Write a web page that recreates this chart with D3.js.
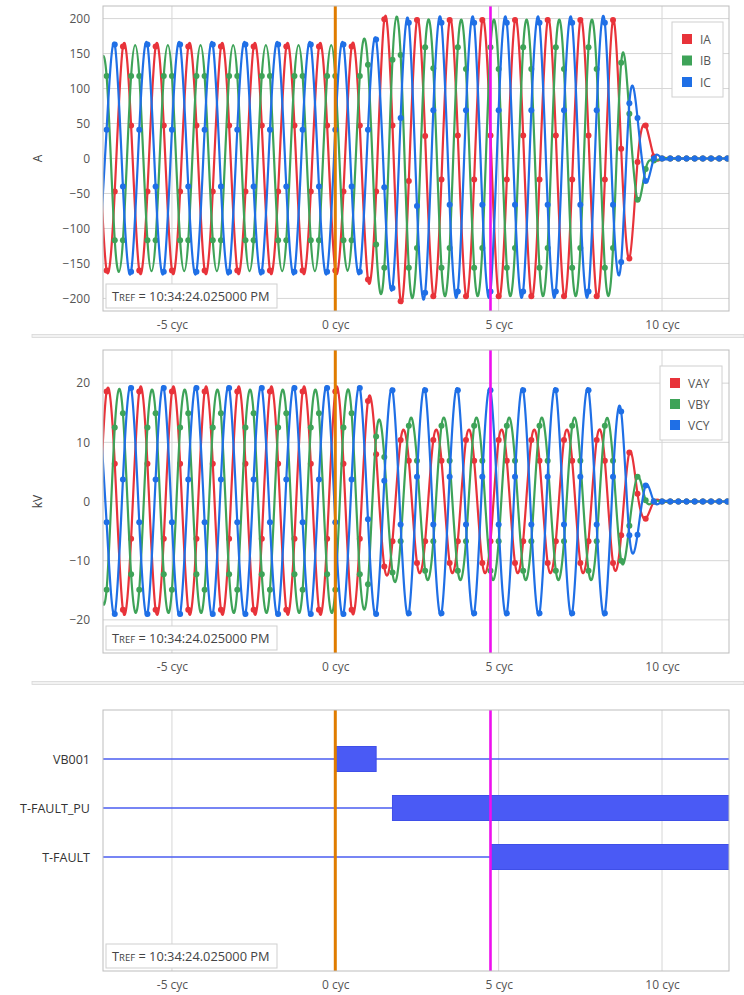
<!DOCTYPE html>
<html>
<head>
<meta charset="utf-8">
<script src="https://cdn.jsdelivr.net/npm/d3@7"></script>
<style>
  body { margin: 0; background: #fff; }
  svg { display: block; font-family: "Open Sans", "Segoe UI", sans-serif; }
</style>
</head>
<body>
<div id="root"></div>
<script>
// sample clock, 4 samples per cycle, -7.25 cyc .. 12 cyc
const cycles = d3.range(-29, 49).map(k => k / 4);

// currents (A)
const IA = [
  47,
  -160, -47, 160, 47,  -160, -47, 160, 47,  -160, -47, 160, 47,  -160, -47, 160, 47,
  -160, -47, 160, 47,  -160, -47, 160, 47,  -160, -47, 160, 47,  -160, -47, 160, 47,
  -173, -47, 199, 47,  -204, -32, 198, 32,  -197,
  -30, 198, 33, -197,  -30, 198, 33, -197,  -30, 198, 33, -197,  -30, 198, 33, -197,
  -30, 198, 33, -197,  -30, 198,
  14, -143, -5, 47, 3, 0, 0, 0, 0, 0, 0, 0, 0, 0
];
const IB = [
  118,
  118, -117, -117, 118,  118, -117, -117, 118,  118, -117, -117, 118,  118, -117, -117, 118,
  118, -117, -117, 118,  118, -117, -117, 118,  118, -117, -117, 118,  118, -117, -117, 118,
  134, -123, -156, 141,  148, -156, -128, 159,  129,
  -156, -128, 159, 128,  -156, -128, 159, 128,  -156, -128, 159, 128,  -156, -128, 159, 128,
  -156, -128, 159, 128,  -156, -128,
  137, 64, -59, -15, -3, 0, 0, 0, 0, 0, 0, 0, 0, 0
];
const IC = [
  -162,
  41, 163, -40, -162,  41, 163, -40, -162,  41, 163, -40, -162,  41, 163, -40, -162,
  41, 163, -40, -162,  41, 163, -40, -162,  41, 163, -40, -162,  41, 163, -40, -162,
  41, 170, -41, -185,  58, 194, -68, -192,  69,
  194, -66, -190, 69,  194, -66, -190, 69,  194, -66, -190, 69,  194, -66, -190, 69,
  194, -66, -190, 69,  194, -66,
  -148, 79, 58, -32, 0, 0, 0, 0, 0, 0, 0, 0, 0, 0
];

// voltages (kV)
const VAY = [
  -6.3,
  18.6, 6.4, -18.3, -6.3,  18.6, 6.4, -18.3, -6.3,  18.6, 6.4, -18.3, -6.3,  18.6, 6.4, -18.3, -6.3,
  18.6, 6.4, -18.3, -6.3,  18.6, 6.4, -18.3, -6.3,  18.6, 6.4, -18.3, -6.3,  18.6, 6.4, -18.3, -6.3,
  17.0, 8.0, -11.0, -6.7,
  10.4, 6.9, -10.4, -6.7,  10.4, 6.9, -10.4, -6.7,  10.4, 6.9, -10.4, -6.7,
  10.4, 6.9, -10.4, -6.7,  10.4, 6.9, -10.4, -6.7,  10.4, 6.9, -10.4, -6.7,
  10.4, 6.9, -10.4,
  -5.7, 8.3, 1.3, -2.9, 0, 0, 0, 0, 0, 0, 0, 0, 0, 0
];
const VBY = [
  -12.3,
  -14.9, 12.5, 14.9, -12.3,  -14.9, 12.5, 14.9, -12.3,  -14.9, 12.5, 14.9, -12.3,  -14.9, 12.5, 14.9, -12.3,
  -14.9, 12.5, 14.9, -12.3,  -14.9, 12.5, 14.9, -12.3,  -14.9, 12.5, 14.9, -12.3,  -14.9, 12.5, 14.9, -12.3,
  -14.0, 11.0, 7.5, -12.0,
  -6.7, 12.8, 6.9, -11.7,  -6.7, 12.8, 6.9, -11.7,  -6.7, 12.8, 6.9, -11.7,
  -6.7, 12.8, 6.9, -11.7,  -6.7, 12.8, 6.9, -11.7,  -6.7, 12.8, 6.9, -11.7,
  -6.7, 12.8, 6.9,
  -10.0, -4.1, 4.2, 0.2, 0, 0, 0, 0, 0, 0, 0, 0, 0, 0
];
const VCY = [
  19.2,
  -3.5, -19.0, 3.7, 19.2,  -3.5, -19.0, 3.7, 19.2,  -3.5, -19.0, 3.7, 19.2,  -3.5, -19.0, 3.7, 19.2,
  -3.5, -19.0, 3.7, 19.2,  -3.5, -19.0, 3.7, 19.2,  -3.5, -19.0, 3.7, 19.2,  -3.5, -19.0, 3.7, 19.2,
  -3.0, -19.0, 3.5, 18.8,
  -3.9, -18.9, 4.2, 18.8,  -3.9, -18.9, 4.2, 18.8,  -3.9, -18.9, 4.2, 18.8,
  -3.9, -18.9, 4.2, 18.8,  -3.9, -18.9, 4.2, 18.8,  -3.9, -18.9, 4.2, 18.8,
  -3.9, -18.9, 4.2,
  15.2, -5.7, -5.6, 2.7, 0, 0, 0, 0, 0, 0, 0, 0, 0, 0
];

// digital elements: [on, off] in cycles (off = null -> still asserted)
const digitalNames = ['VB001', 'T-FAULT_PU', 'T-FAULT'];
const digitalOn = [[0, 1.25], [1.75, null], [4.75, null]];

const currentTicks = [-200, -150, -100, -50, 0, 50, 100, 150, 200];
const voltageTicks = [-20, -10, 0, 10, 20];
const cycleTicks = [-5, 0, 5, 10];
const cursors = [0, 4.75];
const trefText = ' = 10:34:24.025000 PM';

const root = document.getElementById('root');
const width = 744, height = 995;
const colors = { red: '#e8333a', green: '#3ea358', blue: '#1f6fe6' };

const svg = d3.select(root).append('svg')
  .attr('width', width)
  .attr('height', height);

const left = 103, right = 729;
const x = d3.scaleLinear().domain([-7.11, 12.05]).range([left, right]);

// panel boxes
const panels = [
  { top: 6, bottom: 311 },
  { top: 350, bottom: 653 },
  { top: 710, bottom: 971 }
];

// separator strips between panels
[336, 683].forEach(yy => {
  svg.append('rect')
    .attr('x', 32).attr('y', yy - 1.5)
    .attr('width', width - 32).attr('height', 3)
    .attr('fill', '#f2f2f2')
    .attr('stroke', '#d8d8d8').attr('stroke-width', 0.8);
});

const buildPanel = (p, i) => {
  const g = svg.append('g');
  g.append('clipPath').attr('id', 'clip' + i)
    .append('rect')
    .attr('x', left).attr('y', p.top)
    .attr('width', right - left).attr('height', p.bottom - p.top);

  // vertical grid
  g.append('g').selectAll('line').data(cycleTicks).join('line')
    .attr('x1', d => x(d)).attr('x2', d => x(d))
    .attr('y1', p.top).attr('y2', p.bottom)
    .attr('stroke', '#d6d6d6').attr('stroke-width', 1);

  // x axis labels
  const xAxis = d3.axisBottom(x).tickValues(cycleTicks)
    .tickFormat(d => d + ' cyc').tickSize(0).tickPadding(9);
  const ax = g.append('g').attr('transform', `translate(0,${p.bottom})`).call(xAxis);
  ax.select('.domain').remove();
  ax.selectAll('text').attr('fill', '#555').style('font-size', '12px')
    .style('font-family', '"Open Sans", sans-serif');
  return g;
};

const gs = panels.map(buildPanel);

const waveformPanel = (g, p, i, domain, ticks, label, series) => {
  const y = d3.scaleLinear().domain(domain).range([p.bottom, p.top]);

  g.append('g').selectAll('line').data(ticks).join('line')
    .attr('x1', left).attr('x2', right)
    .attr('y1', d => y(d)).attr('y2', d => y(d))
    .attr('stroke', '#d6d6d6').attr('stroke-width', 1);

  const yAxis = d3.axisLeft(y).tickValues(ticks).tickSize(0).tickPadding(13);
  const ay = g.append('g').attr('transform', `translate(${left},0)`).call(yAxis);
  ay.select('.domain').remove();
  ay.selectAll('text').attr('fill', '#555').style('font-size', '12px')
    .style('font-family', '"Open Sans", sans-serif');

  g.append('text')
    .attr('transform', `translate(42,${(p.top + p.bottom) / 2})rotate(-90)`)
    .attr('text-anchor', 'middle')
    .attr('fill', '#444').style('font-size', '12px')
    .text(label);

  const plot = g.append('g').attr('clip-path', `url(#clip${i})`);
  const line = d3.line().x((d, k) => x(cycles[k])).y(d => y(d)).curve(d3.curveNatural);

  series.forEach(s => {
    plot.append('path').datum(s.values)
      .attr('d', line)
      .attr('fill', 'none')
      .attr('stroke', s.color).attr('stroke-width', 2.2);
    plot.append('g').selectAll('circle').data(s.values).join('circle')
      .attr('cx', (d, k) => x(cycles[k]))
      .attr('cy', d => y(d))
      .attr('r', 3)
      .attr('fill', s.color);
  });
  return y;
};

waveformPanel(gs[0], panels[0], 0, [-218, 218], currentTicks, 'A', [
  { values: IA, color: colors.red },
  { values: IB, color: colors.green },
  { values: IC, color: colors.blue }
]);
waveformPanel(gs[1], panels[1], 1, [-25.6, 25.6], voltageTicks, 'kV', [
  { values: VAY, color: colors.red },
  { values: VBY, color: colors.green },
  { values: VCY, color: colors.blue }
]);

// digital panel
const yDig = d3.scalePoint().domain(digitalNames).range([759, 857]);
const g3 = gs[2];
const yAxisDig = d3.axisLeft(yDig).tickSize(0).tickPadding(13);
const ad = g3.append('g').attr('transform', `translate(${left},0)`).call(yAxisDig);
ad.select('.domain').remove();
ad.selectAll('text').attr('fill', '#333').style('font-size', '12.5px')
  .style('font-family', '"Open Sans", sans-serif');

const dplot = g3.append('g').attr('clip-path', 'url(#clip2)');
digitalNames.forEach((name, k) => {
  const cy = yDig(name);
  dplot.append('line')
    .attr('x1', left).attr('x2', right)
    .attr('y1', cy).attr('y2', cy)
    .attr('stroke', '#4a5cf0').attr('stroke-width', 1.6);
  const [on, off] = digitalOn[k];
  const x1 = off === null ? right + 5 : x(off);
  dplot.append('rect')
    .attr('x', x(on)).attr('y', cy - 12.5)
    .attr('width', x1 - x(on)).attr('height', 25)
    .attr('fill', '#4a5af5')
    .attr('stroke', '#3f4fe8').attr('stroke-width', 1);
});

// cursors, TREF boxes and frames
panels.forEach((p, i) => {
  const g = gs[i];
  const cc = ['#e07c00', '#ee10ee'];
  cursors.forEach((c, k) => {
    g.append('line')
      .attr('x1', x(c)).attr('x2', x(c))
      .attr('y1', p.top).attr('y2', p.bottom)
      .attr('stroke', cc[k]).attr('stroke-width', k === 0 ? 3 : 2.6);
  });
  g.append('rect')
    .attr('x', left).attr('y', p.top)
    .attr('width', right - left).attr('height', p.bottom - p.top)
    .attr('fill', 'none').attr('stroke', '#bdbdbd').attr('stroke-width', 1);

  const bg = g.append('g').attr('transform', `translate(106,${p.bottom - 27})`);
  bg.append('rect').attr('width', 171).attr('height', 24)
    .attr('fill', '#fff').attr('stroke', '#cfcfcf');
  const t = bg.append('text').attr('x', 6).attr('y', 16.5)
    .attr('fill', '#444').style('font-size', '12.8px');
  t.append('tspan').text('T');
  t.append('tspan').style('font-size', '9.5px').text('REF');
  t.append('tspan').text(trefText);
});

// legends
const legend = (g, x0, y0, w, h, names, spacing) => {
  const lg = g.append('g').attr('transform', `translate(${x0},${y0})`);
  lg.append('rect').attr('width', w).attr('height', h)
    .attr('fill', '#fff').attr('stroke', '#d0d0d0');
  const cols = [colors.red, colors.green, colors.blue];
  const it = lg.selectAll('g').data(names).join('g')
    .attr('transform', (d, k) => `translate(0,${17 + k * spacing})`);
  it.append('rect').attr('x', 10).attr('y', -5).attr('width', 10).attr('height', 10)
    .attr('fill', (d, k) => cols[k]);
  it.append('text').attr('x', 28).attr('y', 4.5)
    .attr('fill', '#555').style('font-size', '12px').text(d => d);
};
legend(gs[0], 672, 22, 51, 75, ['IA', 'IB', 'IC'], 21.5);
legend(gs[1], 660, 366, 62, 74, ['VAY', 'VBY', 'VCY'], 21);
</script>
</body>
</html>
